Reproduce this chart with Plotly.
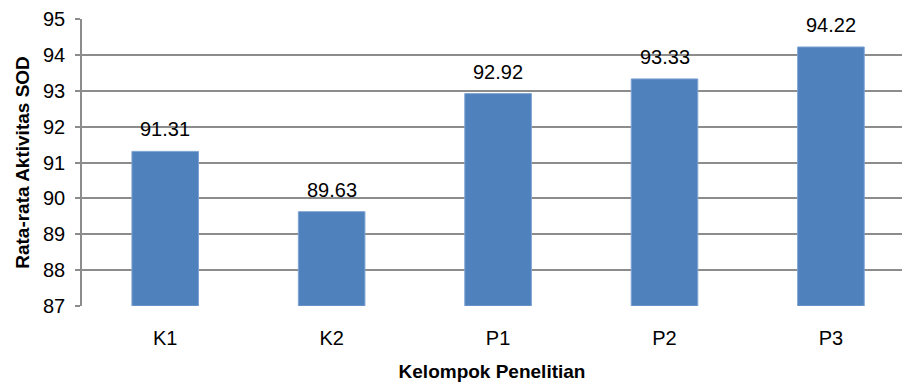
import plotly.graph_objects as go

# Mean SOD activity per research group
groups = ["K1", "K2", "P1", "P2", "P3"]
sod_mean = [91.31, 89.63, 92.92, 93.33, 94.22]
y_ticks = [87, 88, 89, 90, 91, 92, 93, 94, 95]

FONT = "Liberation Sans Narrow, Liberation Sans, Arial, sans-serif"
BAR = "#4F81BD"
GRID = "#8C8C8C"

fig = go.Figure(
    go.Bar(
        x=groups,
        y=[v - 87 for v in sod_mean],
        base=87,
        width=0.4,
        marker=dict(color=BAR, line=dict(color="#7FA3D3", width=1)),
        hoverinfo="skip",
    )
)

# value labels above each bar
for g, v in zip(groups, sod_mean):
    fig.add_annotation(
        x=g, y=v, text=f"{v:.2f}", showarrow=False,
        yanchor="bottom", yshift=9,
        font=dict(family=FONT, size=20, color="#000000"),
    )

fig.update_layout(
    width=902, height=383,
    margin=dict(l=82, r=0, t=19, b=77),
    paper_bgcolor="white", plot_bgcolor="white",
    showlegend=False,
    font=dict(family=FONT, size=20, color="#000000"),
    xaxis=dict(
        range=[-0.5, 4.427],
        showgrid=False, zeroline=False,
        showline=False,
        ticks="", ticklen=0,
        ticklabelstandoff=18,
        tickfont=dict(family=FONT, size=20),
        title=dict(text="<b>Kelompok Penelitian</b>",
                   font=dict(family=FONT, size=19), standoff=16),
    ),
    yaxis=dict(
        range=[87, 95],
        tickvals=y_ticks,
        showgrid=True, gridcolor=GRID, gridwidth=1.5,
        zeroline=False,
        showline=True, linecolor=GRID, linewidth=1.5,
        ticks="outside", ticklen=5, tickcolor=GRID, tickwidth=1.5,
        ticklabelstandoff=6,
        tickfont=dict(family=FONT, size=20),
        title=dict(text="<b>Rata-rata Aktivitas SOD</b>",
                   font=dict(family=FONT, size=19), standoff=8),
    ),
)

fig.write_html("out.html")
